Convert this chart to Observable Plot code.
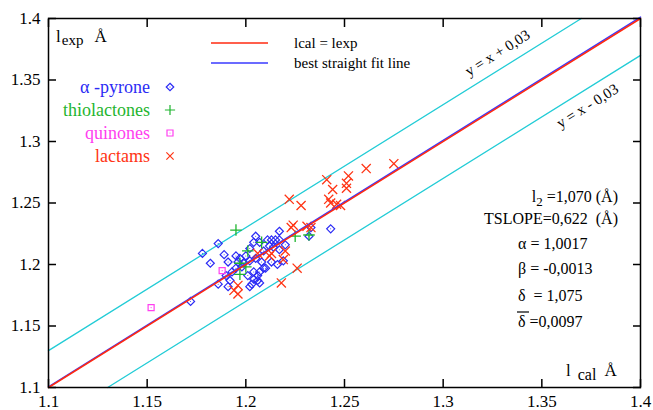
<!DOCTYPE html>
<html><head><meta charset="utf-8">
<script src="https://cdn.jsdelivr.net/npm/d3@7"></script>
<script src="https://cdn.jsdelivr.net/npm/@observablehq/plot@0.6"></script>
<style>body{margin:0;background:#fff} svg{display:block} svg, svg text {font-family: "Liberation Serif", "Times New Roman", Times, "DejaVu Serif", serif !important;}</style>
</head><body><div id="chart"></div>
<script>
// ---- data ----
const pyroneX = [1.172,1.178,1.186,1.189,1.182,1.186,1.191,1.191,1.193,1.195,1.197,1.196,1.198,1.195,1.190,1.192,
  1.205,1.204,1.207,1.211,1.213,1.215,1.217,1.217,1.212,1.214,1.233,1.232,1.243,1.219,1.205,1.210,1.204,1.206,
  1.206,1.203,1.202,1.200,1.202,1.199,1.208,1.209,1.202,1.209,1.207,1.201,1.213,1.216,1.217,1.220,1.204,1.207];
const pyroneY = [1.170,1.209,1.217,1.208,1.201,1.184,1.182,1.202,1.194,1.207,1.205,1.202,1.198,1.197,1.191,1.187,
  1.223,1.218,1.218,1.220,1.220,1.220,1.227,1.220,1.215,1.214,1.230,1.223,1.229,1.203,1.205,1.197,1.194,1.191,
  1.187,1.184,1.182,1.207,1.203,1.201,1.202,1.211,1.213,1.197,1.194,1.191,1.202,1.200,1.212,1.216,1.188,1.185];
const thioX = [1.195,1.225,1.232,1.208,1.201,1.200,1.197,1.197];
const thioY = [1.228,1.223,1.224,1.218,1.211,1.198,1.192,1.201];
const quinX = [1.152,1.188];
const quinY = [1.165,1.195];
const lactX = [1.275,1.261,1.252,1.241,1.251,1.251,1.244,1.222,1.228,1.242,1.243,1.246,1.248,1.223,1.224,1.231,
  1.233,1.220,1.219,1.213,1.212,1.206,1.226,1.218,1.196,1.196,1.194];
const lactY = [1.282,1.278,1.272,1.269,1.266,1.262,1.261,1.253,1.248,1.253,1.250,1.249,1.248,1.230,1.232,1.231,
  1.230,1.211,1.204,1.209,1.207,1.209,1.197,1.185,1.183,1.176,1.179];

const xTicks = [1.1,1.15,1.2,1.25,1.3,1.35,1.4];
const yTicks = [1.1,1.15,1.2,1.25,1.3,1.35,1.4];
const diagX = [1.1,1.4], diagY = [1.1,1.4];              // lcal = lexp
const fitX = [1.1,1.4], fitY = [1.1006,1.4011];           // best straight fit (alpha=1.0017, beta=-0.0013)
const upX = [1.1,1.37], upY = [1.13,1.4];                 // y = x + 0.03
const loX = [1.13,1.4], loY = [1.1,1.37];                 // y = x - 0.03

const seriesNames = ["α -pyrone","thiolactones","quinones","lactams"];
const statTexts = ["=1,070 (Å)","TSLOPE=0,622  (Å)","α = 1,0017","β = -0,0013","δ  = 1,075","δ =0,0097"];

// ---- colours ----
const C_BLUE = "#2b2bf5", C_GREEN = "#1fb52f", C_MAG = "#ff40f0", C_RED = "#ff3414", C_CYAN = "#22ccd6";
const C_LINE_RED = "#ff2a10", C_LINE_BLUE = "#3a3aff";

const zip = (xs, ys) => xs.map((x, i) => ({x, y: ys[i]}));
const pyrone = zip(pyroneX, pyroneY), thio = zip(thioX, thioY), quin = zip(quinX, quinY), lact = zip(lactX, lactY);
const fmt = d => String(d);
const FONT = '"Liberation Serif", "Times New Roman", Times, "DejaVu Serif", serif';

const chart = Plot.plot({
  width: 653, height: 410,
  marginLeft: 48, marginRight: 13, marginTop: 18, marginBottom: 23,
  x: {domain: [1.1, 1.4]},
  y: {domain: [1.1, 1.4]},
  style: {fontFamily: FONT, fontSize: "17px", color: "black", background: "white", overflow: "visible"},
  marks: [
    // labelled axes with inward ticks (negative tick size)
    Plot.axisX({anchor: "bottom", ticks: xTicks, tickSize: -8, tickPadding: 15, strokeWidth: 1.5, tickFormat: fmt, label: null}),
    Plot.axisY({anchor: "left", ticks: yTicks, tickSize: -8, tickPadding: 16, strokeWidth: 1.5, tickFormat: fmt, label: null}),
    // mirrored inward ticks on top and right
    Plot.axisX({anchor: "top", ticks: xTicks, tickSize: -8, strokeWidth: 1.5, tickFormat: () => "", label: null}),
    Plot.axisY({anchor: "right", ticks: yTicks, tickSize: -8, strokeWidth: 1.5, tickFormat: () => "", label: null}),
    Plot.line(zip(upX, upY), {x: "x", y: "y", stroke: C_CYAN, strokeWidth: 1.3}),
    Plot.line(zip(loX, loY), {x: "x", y: "y", stroke: C_CYAN, strokeWidth: 1.3}),
    Plot.dot(pyrone, {x: "x", y: "y", symbol: "diamond2", r: 3.6, stroke: C_BLUE, strokeWidth: 1.2, fill: "none"}),
    Plot.dot(pyrone, {x: "x", y: "y", r: 0.5, fill: C_BLUE}),
    Plot.dot(thio, {x: "x", y: "y", symbol: "plus", r: 3.8, stroke: C_GREEN, strokeWidth: 1.3}),
    Plot.dot(quin, {x: "x", y: "y", symbol: "square", r: 3.4, stroke: C_MAG, strokeWidth: 1.2, fill: "none"}),
    Plot.dot(quin, {x: "x", y: "y", r: 0.6, fill: C_MAG}),
    Plot.dot(lact, {x: "x", y: "y", symbol: "times", r: 4.2, stroke: C_RED, strokeWidth: 1.3}),
    Plot.line(zip(fitX, fitY), {x: "x", y: "y", stroke: C_LINE_BLUE, strokeWidth: 1.5}),
    Plot.line(zip(diagX, diagY), {x: "x", y: "y", stroke: C_LINE_RED, strokeWidth: 1.5}),
    Plot.frame({stroke: "black", strokeWidth: 1.5})
  ]
});
document.getElementById("chart").appendChild(chart);

// ---- annotations ----
const svg = d3.select(chart);
const g = svg.append("g").style("font-family", FONT).attr("fill", "black");
// parts: string, or [string, dy, size, dx]
function text(x, y, parts, {size = 16, anchor = "start", color = "black", rotate = 0} = {}) {
  const t = g.append("text").attr("text-anchor", anchor).attr("fill", color).attr("font-size", size)
    .style("font-family", FONT)
    .attr("transform", `translate(${x},${y}) rotate(${rotate})`);
  for (const p of parts) {
    const [s, dy, sz, dx] = Array.isArray(p) ? p : [p, 0, size, 0];
    const ts = t.append("tspan").text(s).attr("font-size", sz || size);
    if (dy) ts.attr("dy", dy);
    if (dx) ts.attr("dx", dx);
  }
  return t;
}
// axis titles
text(56, 42, ["l", ["exp", 3, 15, 1], ["Å", -3, 17, 11]], {size: 17});
text(566, 376, ["l", ["cal", 4, 16, 7], ["Å", -4, 17, 8]], {size: 17});
// line legend
g.append("line").attr("x1", 211).attr("x2", 268).attr("y1", 43).attr("y2", 43).attr("stroke", C_LINE_RED).attr("stroke-width", 1.3);
g.append("line").attr("x1", 211).attr("x2", 268).attr("y1", 63).attr("y2", 63).attr("stroke", C_LINE_BLUE).attr("stroke-width", 1.3);
text(294, 48, ["lcal = lexp"], {size: 15});
text(294, 68, ["best straight fit line"], {size: 15});
// series legend
const legColors = [C_BLUE, C_GREEN, C_MAG, C_RED];
const legSymbols = [d3.symbolDiamond2, d3.symbolPlus, d3.symbolSquare, d3.symbolTimes];
seriesNames.forEach((name, i) => {
  const cy = 87 + i * 23;
  text(150, cy + 6, [name], {size: 18, anchor: "end", color: legColors[i]});
  g.append("path").attr("d", d3.symbol(legSymbols[i], 36)())
    .attr("transform", `translate(170,${cy})`)
    .attr("fill", "none").attr("stroke", legColors[i]).attr("stroke-width", 1.2);
  if (i === 0 || i === 2) g.append("circle").attr("cx", 170).attr("cy", cy).attr("r", 0.6).attr("fill", legColors[i]);
});
// offset-line labels
text(500, 57, ["y = x + 0,03"], {size: 15, anchor: "middle", rotate: -32});
text(590, 110, ["y = x - 0,03"], {size: 15, anchor: "middle", rotate: -32});
// statistics
text(618, 202, ["l", ["2", 4, 13, 0], [" " + statTexts[0], -4, 16, 0]], {size: 16, anchor: "end"});
text(618, 224, [statTexts[1]], {size: 16, anchor: "end"});
text(518, 249, [statTexts[2]], {size: 16});
text(518, 274, [statTexts[3]], {size: 16});
text(518, 301, [statTexts[4]], {size: 16});
text(518, 327, [statTexts[5]], {size: 16});
g.append("line").attr("x1", 517).attr("x2", 529).attr("y1", 312).attr("y2", 312).attr("stroke", "black").attr("stroke-width", 1.2);
</script>
</body></html>
